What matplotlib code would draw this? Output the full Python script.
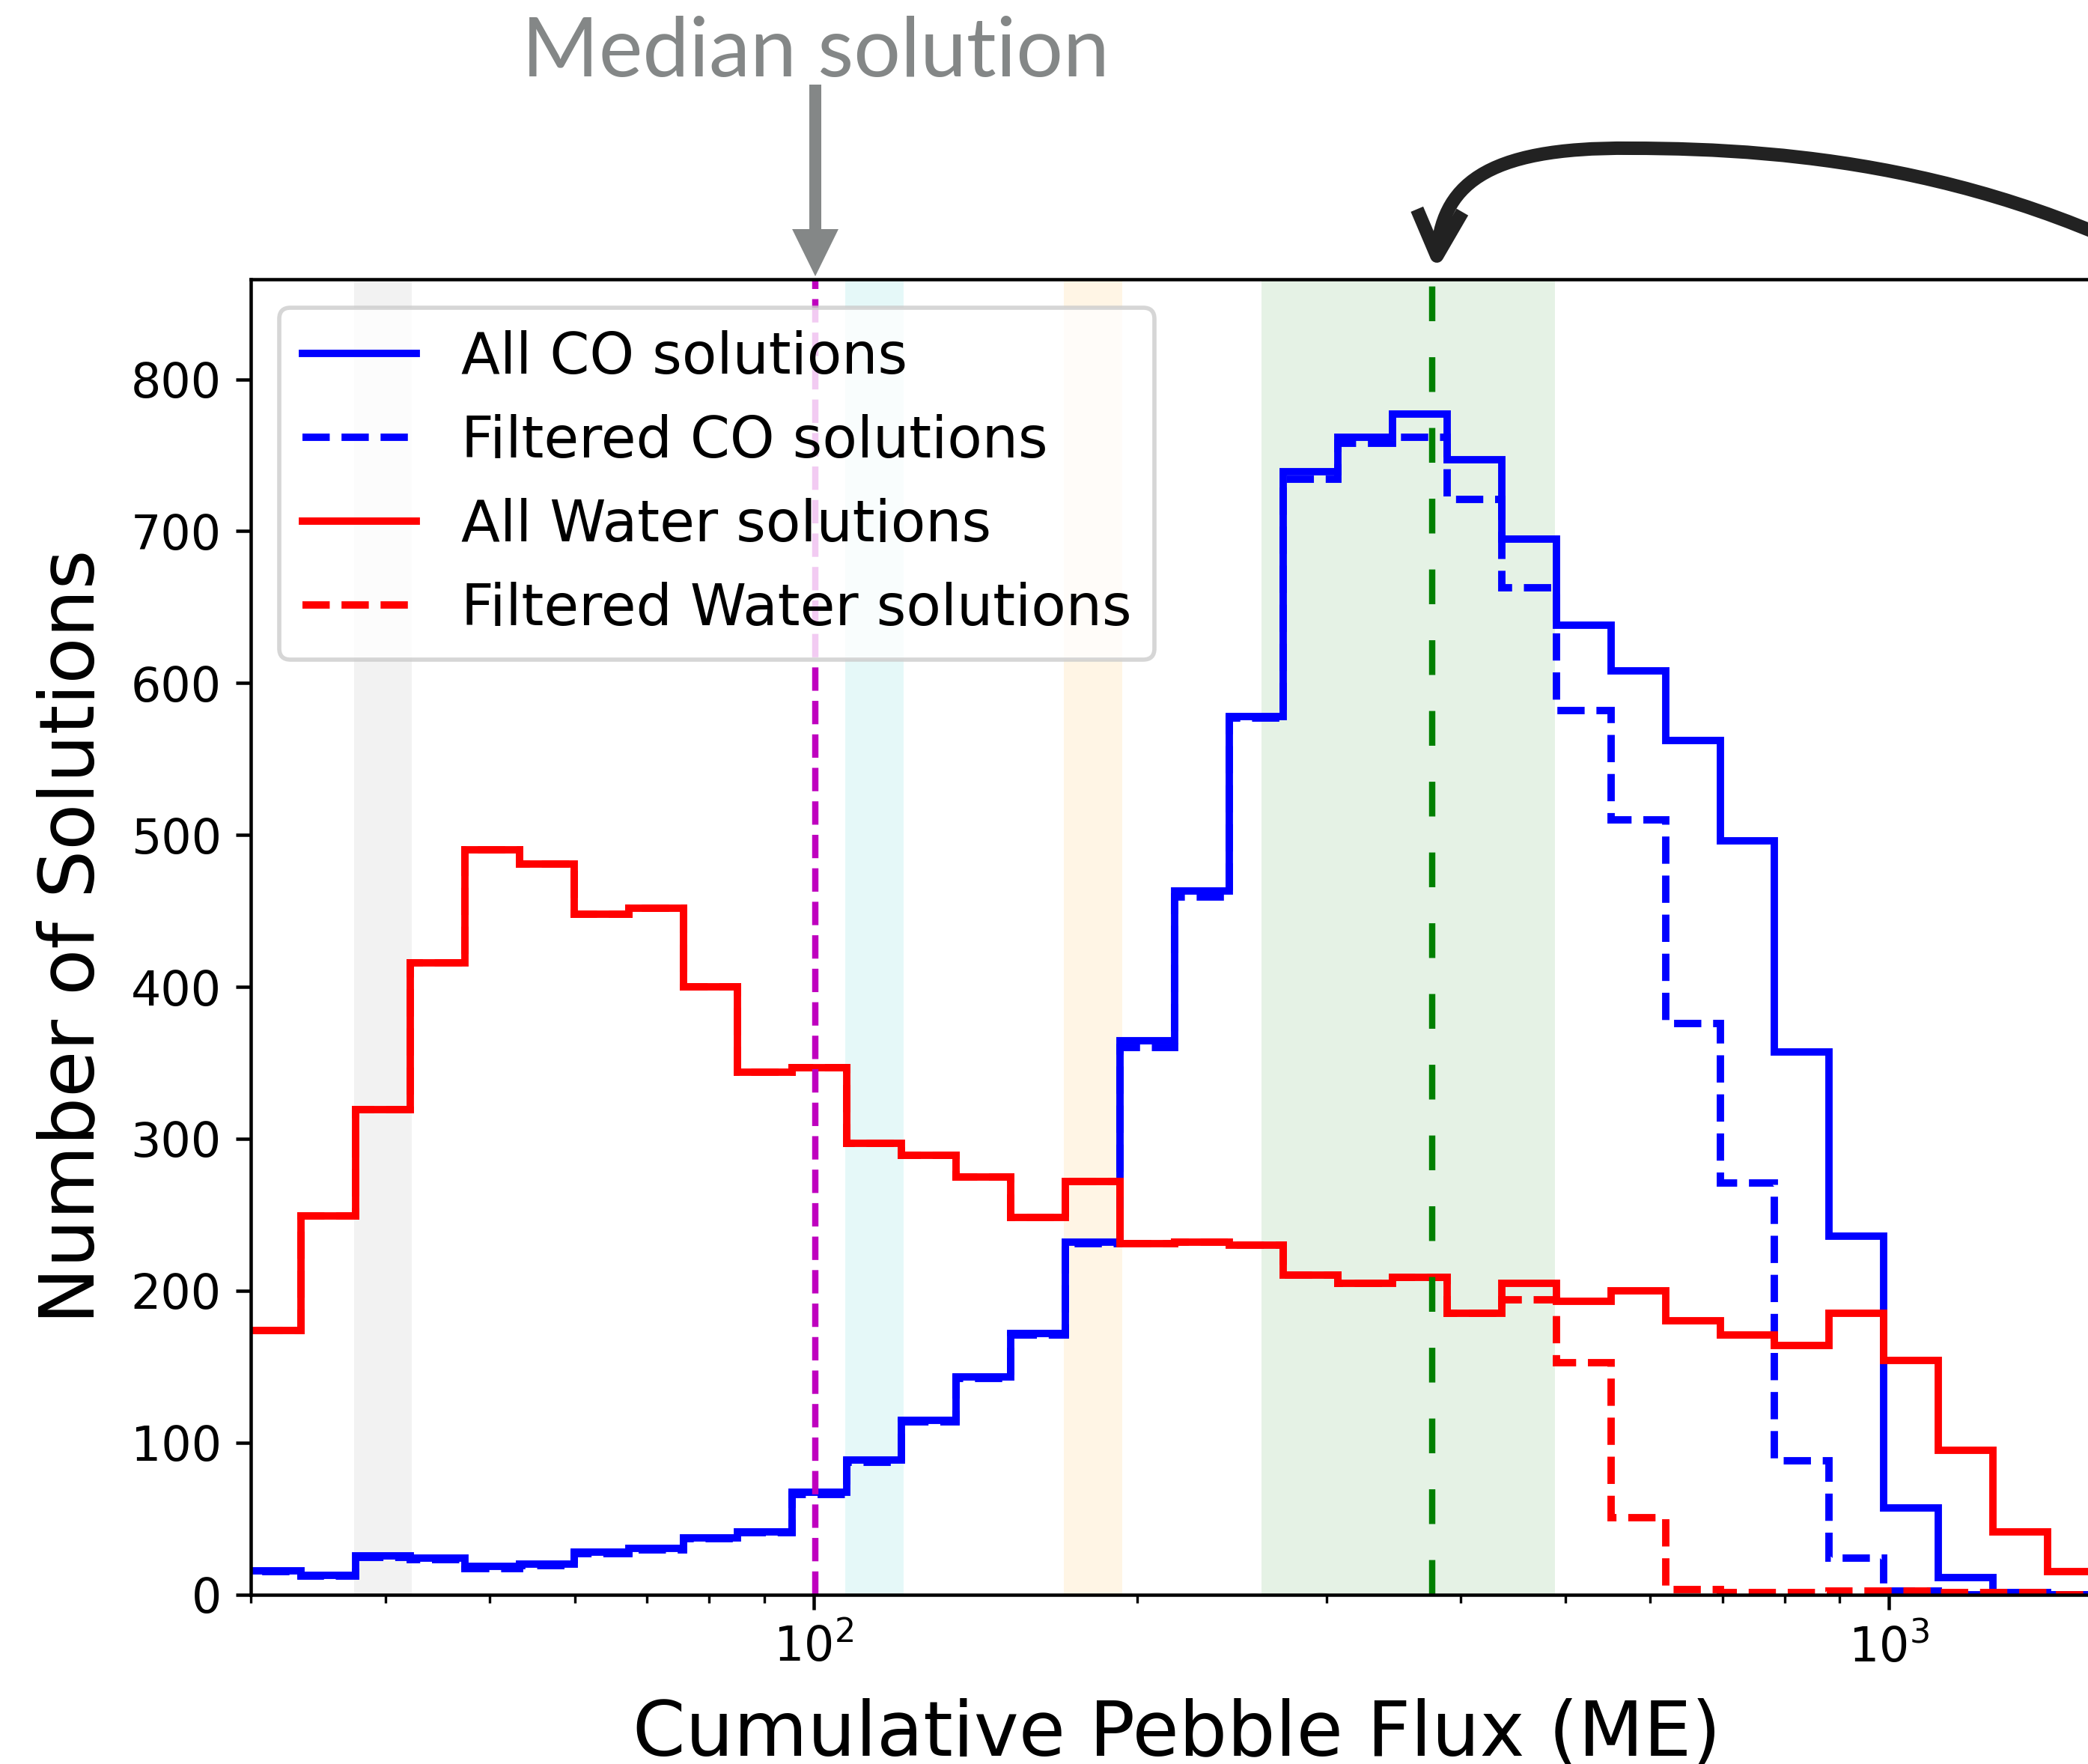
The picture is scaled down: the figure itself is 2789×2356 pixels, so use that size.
import numpy as np
import matplotlib
matplotlib.use("Agg")
import matplotlib.pyplot as plt
from matplotlib.path import Path
from matplotlib.patches import FancyArrowPatch
from matplotlib.transforms import blended_transform_factory

# ---- data -------------------------------------------------------------
# logarithmic bins in cumulative pebble flux (Earth masses)
flux_min, flux_max, n_bins = 29.72, 1578.0, 34
bin_edges = np.logspace(np.log10(flux_min), np.log10(flux_max), n_bins + 1)

co_all = [15.6, 12.5, 25.5, 24, 18.6, 20.2, 28, 30.4, 37.4, 41.4,
          67.2, 88.4, 114.5, 143, 172, 232, 364.5, 463, 578, 739,
          762, 777, 747, 695, 638, 608, 562, 496, 357, 236,
          57, 11, 1, 0]
co_filtered = [15, 12, 24.5, 23, 17, 19, 27, 29.5, 36.5, 40.5,
               66, 87, 113.5, 142, 171, 231, 360, 459, 577, 734,
               758, 762, 721, 663, 582, 510, 376, 271, 88, 24,
               2, 0, 0, 0]
water_all = [174, 249, 319, 416, 490, 481, 448, 452, 400, 344,
             347, 297, 289, 275, 248, 272, 231, 232, 230, 210,
             205, 209, 185, 205, 193, 200, 180, 171, 164, 185,
             154, 95, 41, 15]
water_filtered = [174, 249, 319, 416, 490, 481, 448, 452, 400, 344,
                  347, 297, 289, 275, 248, 272, 231, 232, 230, 210,
                  205, 209, 185, 194, 152.5, 50.6, 3, 1, 1, 2,
                  2, 1, 1, 0]

median_flux = 100.4
best_flux = 376.0
best_range = (261.0, 489.5)
band_lo = [37.42, 106.96, 170.8]
band_hi = [42.33, 121.3, 193.6]
band_colors = ['gray', 'c', 'orange']

# ---- figure layout ----------------------------------------------------
W, H, DPI = 2789, 2356, 405
fig = plt.figure(figsize=(W / DPI, H / DPI), dpi=DPI)

ax_left, ax_top, ax_bottom = 335.3, 372.7, 2129.5   # pixels
decade_px = 1436.7
ax_width = (np.log10(flux_max) - np.log10(30)) * decade_px
ax = fig.add_axes([ax_left / W, 1 - ax_bottom / H,
                   ax_width / W, (ax_bottom - ax_top) / H])

# shaded flux ranges
for lo, hi, c in zip(band_lo, band_hi, band_colors):
    ax.axvspan(lo, hi, color=c, alpha=0.1, lw=0, zorder=0)
ax.axvspan(*best_range, color='green', alpha=0.1, lw=0, zorder=0)

# histograms
lw_hist = 1.75
ax.stairs(co_all, bin_edges, color='b', lw=lw_hist, label='All CO solutions')
ax.stairs(co_filtered, bin_edges, color='b', ls='--', lw=lw_hist,
          label='Filtered CO solutions')
ax.stairs(water_all, bin_edges, color='r', lw=lw_hist, label='All Water solutions')
ax.stairs(water_filtered, bin_edges, color='r', ls='--', lw=lw_hist,
          label='Filtered Water solutions')

ax.axvline(median_flux, color='m', ls='--', lw=1.5)
ax.axvline(best_flux, color='green', ls=(0, (5.5, 5.7)), lw=1.5)

ax.set_xscale('log')
ax.set_xlim(30, flux_max)
ax.set_ylim(0, 866)
ax.set_xlabel('Cumulative Pebble Flux (ME)', fontsize=18, labelpad=6.2)
ax.set_ylabel('Number of Solutions', fontsize=18, labelpad=5)
ax.tick_params(labelsize=11.3)
ax.legend(loc='upper left', fontsize=13.5)

# ---- annotations above the axes ---------------------------------------
gray = '#848787'
blend = blended_transform_factory(ax.transData, fig.transFigure)
ax.text(median_flux, 1 - 102 / H, 'Median solution', transform=blend,
        ha='center', va='baseline', fontsize=19.7, family='Lato',
        color=gray, clip_on=False)
ax.annotate('', xy=(median_flux, 1 - 369 / H), xycoords=blend,
            xytext=(median_flux, 1 - 113 / H), textcoords=blend,
            arrowprops=dict(width=2.84, headwidth=11, headlength=11.2,
                            facecolor=gray, edgecolor='none', shrink=0),
            annotation_clip=False)

# curved arrow coming in from the right onto the best-fit flux
curve_px = [(3000, 415), (2700, 226), (2400, 198), (2178, 198),
            (1980, 196), (1925, 250), (1918, 362)]
codes = [Path.MOVETO] + [Path.CURVE4] * 6
curve = Path([(x / W, 1 - y / H) for x, y in curve_px], codes)
arrow = FancyArrowPatch(path=curve, arrowstyle='->', mutation_scale=27,
                        lw=3.2, color='#222222', joinstyle='round',
                        capstyle='butt', transform=fig.transFigure)
fig.add_artist(arrow)

fig.savefig('out.png', dpi=DPI)
